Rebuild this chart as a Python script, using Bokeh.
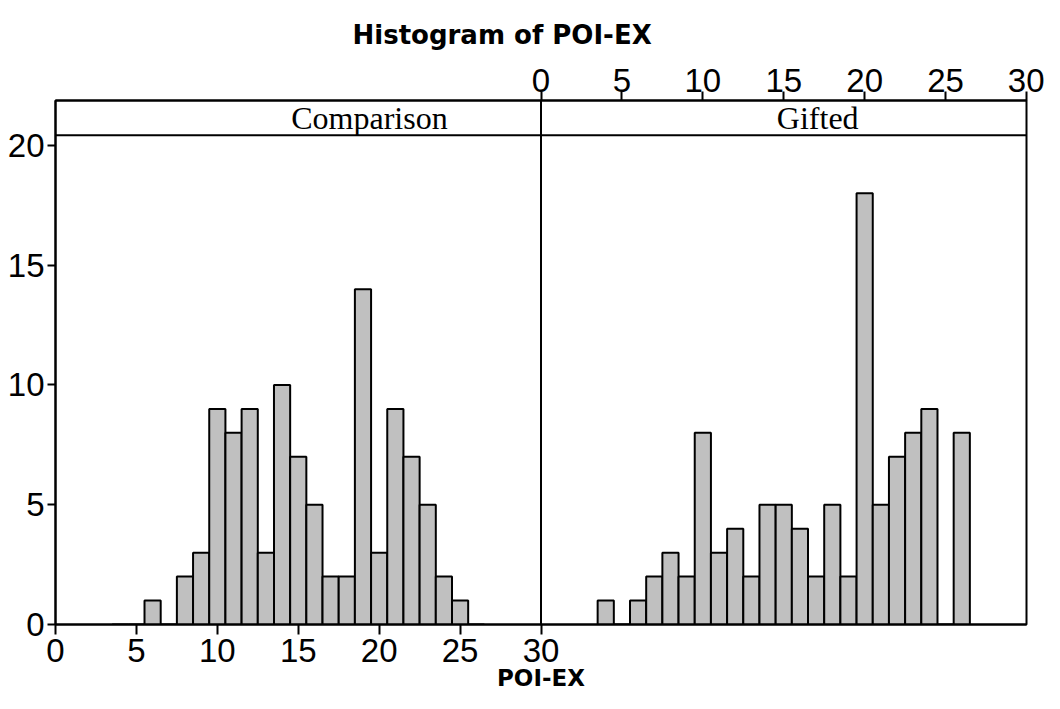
from bokeh.plotting import figure
from bokeh.models import Range1d, LinearAxis, FixedTicker, Span, ColumnDataSource, Title
from bokeh.core.properties import value
from bokeh.embed import file_html
from bokeh.resources import INLINE

# ---- data ----
bins = [4, 5, 6, 7, 8, 9, 10, 11, 12, 13, 14, 15, 16, 17, 18, 19, 20, 21, 22, 23, 24, 25, 26]
comparison = [0, 0, 1, 0, 2, 3, 9, 8, 9, 3, 10, 7, 5, 2, 2, 14, 3, 9, 7, 5, 2, 1, 0]
gifted = [1, 0, 1, 2, 3, 2, 8, 3, 4, 2, 5, 5, 4, 2, 5, 2, 18, 5, 7, 8, 9, 0, 8]
panels = ["Comparison", "Gifted"]
x_ticks = [0, 5, 10, 15, 20, 25, 30]
y_ticks = [0, 5, 10, 15, 20]
panel_width = 30  # each panel spans 0..30 on the POI-EX axis

TICK_FONT = "Liberation Sans"

p = figure(width=1044, height=693,
           x_range=Range1d(0, 2 * panel_width), y_range=Range1d(0, 21.875),
           output_backend="svg", toolbar_location=None,
           x_axis_location=None, y_axis_location=None,
           min_border_left=55, min_border_right=18,
           min_border_top=100, min_border_bottom=10)
p.grid.visible = False
p.outline_line_color = "black"
p.outline_line_width = 2
p.background_fill_color = "white"
p.border_fill_color = "white"

# bars: left panel = Comparison, right panel = Gifted (offset by one panel width)
src_c = ColumnDataSource(dict(x=bins, top=comparison))
src_g = ColumnDataSource(dict(x=[b + panel_width for b in bins], top=gifted))
for src in (src_c, src_g):
    p.vbar(x="x", top="top", bottom=0, width=1, source=src,
           fill_color="#c0c0c0", line_color="black", line_width=2)

def style_axis(ax):
    ax.axis_line_width = 2
    ax.major_tick_line_width = 2
    ax.minor_tick_line_color = None
    ax.major_label_text_font = TICK_FONT
    ax.major_label_text_font_size = "33px"
    ax.major_label_text_color = "black"

# bottom axis (Comparison panel) with the shared axis title
xb = LinearAxis(ticker=FixedTicker(ticks=x_ticks), axis_label="POI-EX")
style_axis(xb)
xb.major_tick_out = 10
xb.major_tick_in = 0
xb.major_label_standoff = 4
xb.axis_label_standoff = 0
xb.axis_label_text_font = "DejaVu Sans"
xb.axis_label_text_font_style = "bold"
xb.axis_label_text_font_size = "23px"
xb.axis_label_text_color = "black"
p.add_layout(xb, "below")

# top axis (Gifted panel)
top_ticks = [t + panel_width for t in x_ticks]
xt = LinearAxis(ticker=FixedTicker(ticks=top_ticks),
                major_label_overrides={tt: str(t) for tt, t in zip(top_ticks, x_ticks)})
style_axis(xt)
xt.major_tick_out = 9
xt.major_tick_in = 0
xt.major_label_standoff = 0
p.add_layout(xt, "above")

# small empty spacer between the top axis and the chart title
p.add_layout(Title(text=" ", text_font_size="12px", standoff=0), "above")

# left axis
yl = LinearAxis(ticker=FixedTicker(ticks=y_ticks))
style_axis(yl)
yl.major_tick_out = 8
yl.major_tick_in = 0
yl.major_label_standoff = 3
p.add_layout(yl, "left")

# panel divider and strip line
p.add_layout(Span(location=panel_width, dimension="height", line_color="black", line_width=2))
p.add_layout(Span(location=20.42, dimension="width", line_color="black", line_width=2))

# strip labels
p.text(x=[19.4, 47.1], y=[21.14, 21.14], text=panels,
       text_font=value("Liberation Serif"), text_font_size="32px",
       text_align="center", text_baseline="middle", text_color="black")

p.title = Title(text="Histogram of POI-EX", align="left", offset=297, standoff=0,
                text_font="DejaVu Sans", text_font_style="bold",
                text_font_size="26px", text_color="black")

open("out.html", "w").write(file_html(p, INLINE))
